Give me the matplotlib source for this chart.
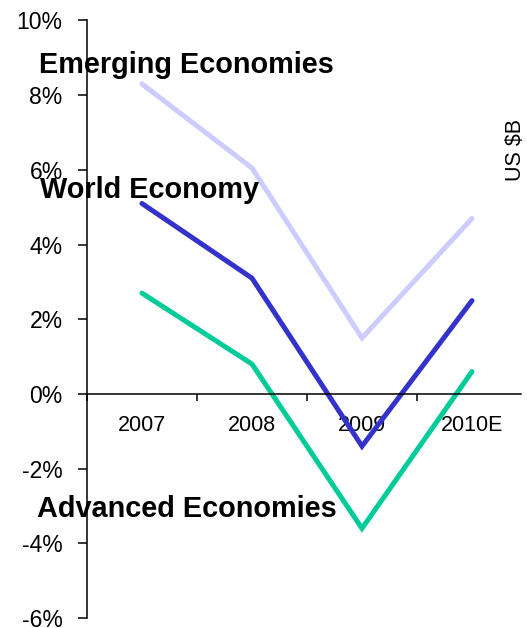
import numpy as np
import matplotlib
matplotlib.use('Agg')
import matplotlib.pyplot as plt
from matplotlib.ticker import FixedLocator, FuncFormatter

plt.rcParams['font.family'] = ['Liberation Sans', 'DejaVu Sans']

years = ['2007', '2008', '2009', '2010E']
emerging = [8.3, 6.05, 1.5, 4.7]
world = [5.1, 3.1, -1.4, 2.5]
advanced = [2.7, 0.8, -3.6, 0.6]
yticks = [-6, -4, -2, 0, 2, 4, 6, 8, 10]

fig = plt.figure(figsize=(5.27, 6.28), dpi=100)
ax = fig.add_axes([0.165, 0.0159, 0.835, 0.9515])

x = np.arange(len(years))
ax.plot(x, emerging, color='#ccccff', lw=3.6, solid_capstyle='round', solid_joinstyle='miter')
ax.plot(x, world, color='#3333cc', lw=3.6, solid_capstyle='round', solid_joinstyle='miter')
ax.plot(x, advanced, color='#00cc99', lw=3.6, solid_capstyle='round', solid_joinstyle='miter')

ax.set_xlim(-0.5, len(years) - 0.5)
ax.set_ylim(-6, 10)

# axis lines: left spine full height, bottom spine through zero
for s in ['top', 'right']:
    ax.spines[s].set_visible(False)
ax.spines['bottom'].set_position(('data', 0))
ax.spines['bottom'].set_bounds(-0.5, len(years) - 0.55)
ax.spines['left'].set_linewidth(1.1)
ax.spines['bottom'].set_linewidth(1.1)

ax.set_yticks(yticks)
ax.yaxis.set_major_formatter(FuncFormatter(lambda v, p: '%d%%' % v))
ax.tick_params(axis='y', direction='out', length=6.5, width=1.1, pad=11, labelsize=16.5)

# tick marks between categories, labels centred on each category
ax.xaxis.set_major_locator(FixedLocator(np.arange(-0.5, len(years) - 0.5, 1.0)))
ax.set_xticklabels([])
ax.xaxis.set_minor_locator(FixedLocator(x))
ax.set_xticklabels(years, minor=True)
ax.tick_params(axis='x', which='major', direction='out', length=5, width=1.1)
ax.tick_params(axis='x', which='minor', length=0, pad=15, labelsize=15.5)

fig.text(0.074, 0.884, 'Emerging Economies', fontsize=20.8, fontweight='bold', va='baseline')
fig.text(0.076, 0.685, 'World Economy', fontsize=20.8, fontweight='bold', va='baseline')
fig.text(0.070, 0.177, 'Advanced Economies', fontsize=20.8, fontweight='bold', va='baseline')
fig.text(0.978, 0.761, 'US $B', fontsize=15.5, rotation=90, ha='center', va='center')

fig.savefig('out.png', dpi=100)
